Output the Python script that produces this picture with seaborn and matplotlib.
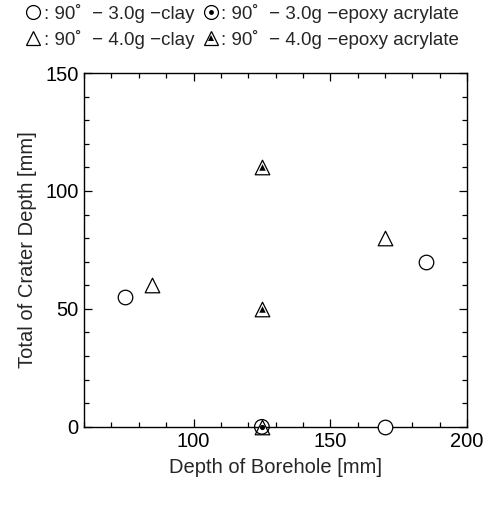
import matplotlib
matplotlib.use("Agg")
import matplotlib.pyplot as plt
import seaborn as sns
import pandas as pd
from matplotlib.lines import Line2D
from matplotlib.legend_handler import HandlerTuple

# data
clay30_x = [75, 170, 185]
clay30_y = [55, 0, 70]
epoxy30_x = [125]
epoxy30_y = [0]
clay40_x = [85, 170, 125]
clay40_y = [60, 80, 0]
epoxy40_x = [125, 125]
epoxy40_y = [110, 50]

labels = [": 90˚  − 3.0g −clay", ": 90˚  − 4.0g −clay",
          ": 90˚  − 3.0g −epoxy acrylate", ": 90˚  − 4.0g −epoxy acrylate"]

sns.set_style("ticks")
plt.rcParams['font.family'] = ['Liberation Sans', 'DejaVu Sans']

fig = plt.figure(figsize=(4.89, 5.18), dpi=100)
ax = fig.add_axes([0.172, 0.176, 0.783, 0.683])

big = 110
small = 14
lw = 0.9

df_c30 = pd.DataFrame({"x": clay30_x, "y": clay30_y})
df_e30 = pd.DataFrame({"x": epoxy30_x, "y": epoxy30_y})
df_c40 = pd.DataFrame({"x": clay40_x, "y": clay40_y})
df_e40 = pd.DataFrame({"x": epoxy40_x, "y": epoxy40_y})

sns.scatterplot(data=df_c30, x="x", y="y", marker="o", s=big, facecolor="white",
                edgecolor="black", linewidth=lw, ax=ax, zorder=3, clip_on=False)
sns.scatterplot(data=df_c40, x="x", y="y", marker="^", s=big, facecolor="white",
                edgecolor="black", linewidth=lw, ax=ax, zorder=3, clip_on=False)
sns.scatterplot(data=df_e30, x="x", y="y", marker="o", s=big, facecolor="none",
                edgecolor="black", linewidth=lw, ax=ax, zorder=4, clip_on=False)
sns.scatterplot(data=df_e30, x="x", y="y", marker="o", s=small, facecolor="black",
                edgecolor="black", linewidth=0, ax=ax, zorder=5, clip_on=False)
sns.scatterplot(data=df_e40, x="x", y="y", marker="^", s=big, facecolor="white",
                edgecolor="black", linewidth=lw, ax=ax, zorder=3, clip_on=False)
sns.scatterplot(data=df_e40, x="x", y="y", marker="^", s=22, facecolor="black",
                edgecolor="black", linewidth=0, ax=ax, zorder=5, clip_on=False)

ax.set_xlim(60, 200)
ax.set_ylim(0, 150)
ax.set_xticks([100, 150, 200])
ax.set_xticks(range(60, 201, 10), minor=True)
ax.set_yticks([0, 50, 100, 150])
ax.set_yticks(range(0, 151, 10), minor=True)
ax.tick_params(which="both", direction="in", top=True, right=True, width=0.9,
               labelsize=14.5, colors="black")
ax.tick_params(which="major", length=6, pad=4)
ax.tick_params(which="minor", length=3.5)
for sp in ax.spines.values():
    sp.set_linewidth(1.0)
    sp.set_color("black")

ax.set_xlabel("Depth of Borehole [mm]", fontsize=14.5, labelpad=5)
ax.set_ylabel("Total of Crater Depth [mm]", fontsize=14.5, labelpad=6)

# legend above the axes
h_c30 = Line2D([], [], ls="none", marker="o", ms=10, mfc="white", mec="black", mew=lw)
h_c40 = Line2D([], [], ls="none", marker="^", ms=10, mfc="white", mec="black", mew=lw)
h_e30 = (Line2D([], [], ls="none", marker="o", ms=10, mfc="white", mec="black", mew=lw),
         Line2D([], [], ls="none", marker="o", ms=3.5, mfc="black", mec="black", mew=0))
h_e40 = (Line2D([], [], ls="none", marker="^", ms=10, mfc="white", mec="black", mew=lw),
         Line2D([], [], ls="none", marker="^", ms=4.5, mfc="black", mec="black", mew=0))
fig.legend([h_c30, h_c40, h_e30, h_e40], labels, ncol=2, frameon=False,
           loc="upper center", bbox_to_anchor=(0.495, 1.014), fontsize=13.5,
           handlelength=0.9, handletextpad=0.1, columnspacing=0.45,
           labelspacing=0.35, borderaxespad=0.2,
           handler_map={tuple: HandlerTuple(ndivide=1, pad=0)})

fig.savefig("out.png", dpi=100)
